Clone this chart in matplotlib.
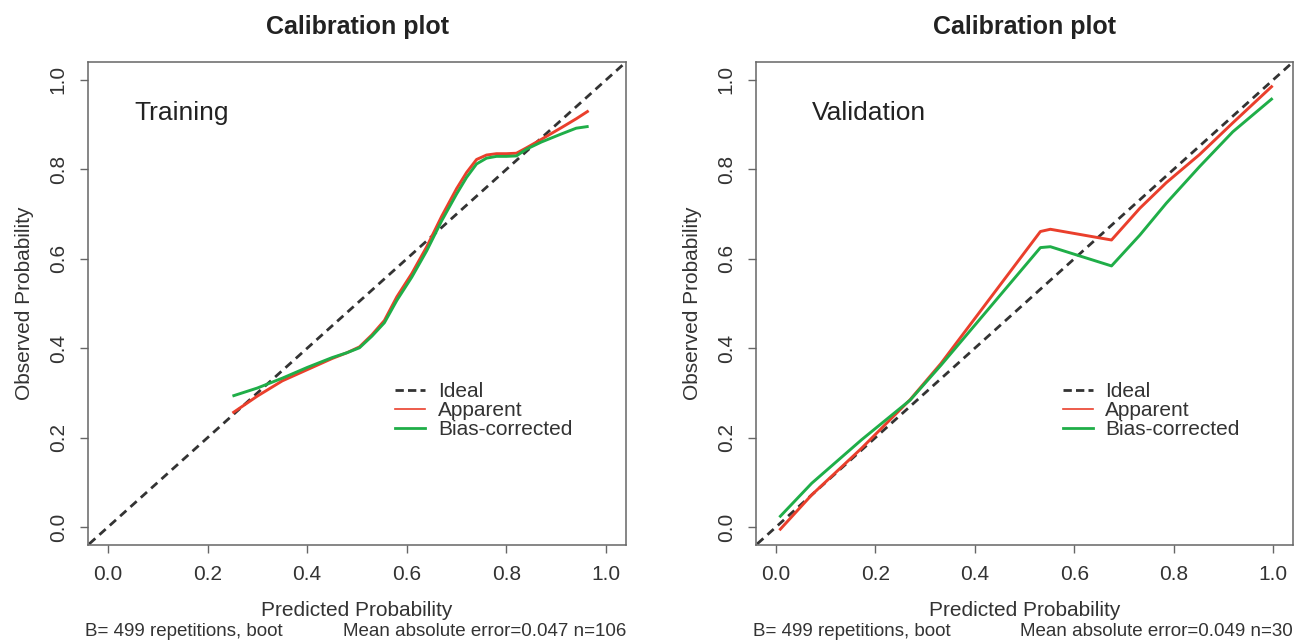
import matplotlib
matplotlib.use("Agg")
import matplotlib.pyplot as plt
from matplotlib.lines import Line2D

plt.rcParams['font.family'] = ['Liberation Sans', 'DejaVu Sans']

# ---------------- data ----------------
train_x = [0.25, 0.30, 0.35, 0.40, 0.45, 0.48, 0.505, 0.53, 0.555, 0.58, 0.61, 0.64,
           0.67, 0.70, 0.72, 0.74, 0.76, 0.78, 0.80, 0.82, 0.84, 0.87, 0.91, 0.94, 0.965]
train_apparent = [0.255, 0.293, 0.327, 0.352, 0.377, 0.390, 0.403, 0.430, 0.462, 0.515,
                  0.567, 0.627, 0.695, 0.757, 0.793, 0.822, 0.832, 0.835, 0.835, 0.836,
                  0.848, 0.867, 0.893, 0.913, 0.931]
train_bias = [0.293, 0.311, 0.333, 0.357, 0.379, 0.390, 0.401, 0.427, 0.457, 0.507,
              0.559, 0.618, 0.685, 0.745, 0.782, 0.812, 0.825, 0.829, 0.829, 0.830,
              0.845, 0.861, 0.879, 0.892, 0.896]

valid_x = [0.007, 0.072, 0.172, 0.27, 0.332, 0.532, 0.552, 0.675, 0.732, 0.785, 0.852,
           0.919, 0.999]
valid_apparent = [-0.007, 0.072, 0.176, 0.285, 0.366, 0.661, 0.666, 0.642, 0.713, 0.770,
                  0.833, 0.904, 0.987]
valid_bias = [0.022, 0.098, 0.195, 0.284, 0.362, 0.625, 0.627, 0.584, 0.653, 0.724,
              0.806, 0.884, 0.959]

ticks = [0.0, 0.2, 0.4, 0.6, 0.8, 1.0]
tick_labels = ["0.0", "0.2", "0.4", "0.6", "0.8", "1.0"]
panel_labels = ["Training", "Validation"]
subtitles_left = ["B= 499 repetitions, boot", "B= 499 repetitions, boot"]
subtitles_right = ["Mean absolute error=0.047 n=106", "Mean absolute error=0.049 n=30"]
legend_labels = ["Ideal", "Apparent", "Bias-corrected"]

# ---------------- style ----------------
RED = "#ea3f2c"
GREEN = "#1fae48"
DASH = "#333333"
TXT = "#333333"
SPINE = "#666666"

W, H = 1304, 643
fig = plt.figure(figsize=(W / 100, H / 100), dpi=100)

axes_px = [(88, 62, 626, 545), (756, 62, 1293, 545)]
data = [(train_x, train_apparent, train_bias), (valid_x, valid_apparent, valid_bias)]

for i, ((l, t, r, b), (xs, ya, yb)) in enumerate(zip(axes_px, data)):
    ax = fig.add_axes([l / W, 1 - b / H, (r - l) / W, (b - t) / H])
    ax.set_xlim(-0.04, 1.04)
    ax.set_ylim(-0.04, 1.04)
    # ideal
    ax.plot([-0.1, 1.1], [-0.1, 1.1], color=DASH, lw=2.0, ls=(0, (3, 2)), zorder=2)
    ax.plot(xs, ya, color=RED, lw=2.1, zorder=3, solid_capstyle='butt')
    ax.plot(xs, yb, color=GREEN, lw=2.1, zorder=3, solid_capstyle='butt')

    ax.set_xticks(ticks)
    ax.set_xticklabels(tick_labels)
    ax.set_yticks(ticks)
    ax.set_yticklabels(tick_labels, rotation=90, va='center')
    ax.tick_params(axis='both', direction='out', length=5.5, width=1.0, color=SPINE,
                   labelsize=15, labelcolor=TXT, pad=9)
    for s in ax.spines.values():
        s.set_color(SPINE)
        s.set_linewidth(1.1)

    ax.set_title("Calibration plot", fontsize=18, fontweight='bold', color='#222222', pad=20)
    ax.set_xlabel("Predicted Probability", fontsize=15, color=TXT, labelpad=12)
    ax.set_ylabel("Observed Probability", fontsize=15, color=TXT, labelpad=11)

    ax.text(0.054 if i == 0 else 0.072, 0.925, panel_labels[i], fontsize=19, color='#222222',
            ha='left', va='center')

    handles = [Line2D([], [], color=DASH, lw=2.0, ls=(0, (3, 1.5))),
               Line2D([], [], color=RED, lw=1.2),
               Line2D([], [], color=GREEN, lw=2.0)]
    leg = ax.legend(handles, legend_labels, loc='upper left', bbox_to_anchor=(0.571, 0.337),
                    frameon=False, fontsize=15, handlelength=1.45, handletextpad=0.6,
                    labelspacing=0.0, borderpad=0, borderaxespad=0)
    for txt in leg.get_texts():
        txt.set_color(TXT)

    fig.text(l / W - 0.002, 1 - 632 / H, subtitles_left[i], fontsize=13.5, color=TXT,
             ha='left', va='center')
    fig.text(r / W, 1 - 632 / H, subtitles_right[i], fontsize=13.5, color=TXT,
             ha='right', va='center')

fig.savefig("out.png", dpi=100)
